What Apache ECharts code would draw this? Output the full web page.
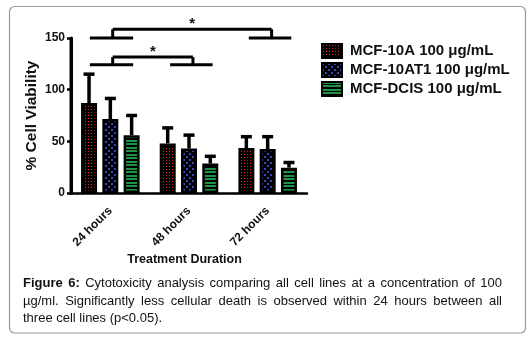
<!DOCTYPE html>
<html lang="en">
<head>
<meta charset="UTF-8">
<title>Figure 6</title>
<style>
  html, body { margin: 0; padding: 0; background: #fff; }
  #chart { width: 531px; height: 339px; }
</style>
</head>
<body>
<div id="chart"></div>
<script src="https://cdn.jsdelivr.net/npm/echarts@6/dist/echarts.min.js"></script>
<script>
  // data
  var durations = ['24 hours', '48 hours', '72 hours'];
  var lineNames = ['MCF-10A 100 \u03bcg/mL', 'MCF-10AT1 100 \u03bcg/mL', 'MCF-DCIS 100 \u03bcg/mL'];
  var mcf10aMean = [87, 48, 43.5];
  var mcf10aSd = [28, 15, 11];
  var mcf10at1Mean = [71.5, 43, 42.5];
  var mcf10at1Sd = [20, 13, 12];
  var dcisMean = [56, 28.5, 24.5];
  var dcisSd = [19, 7, 5];
  var yTicks = [0, 50, 100, 150];

  // significance brackets: [from group, to group, arm level, top level]
  var brackets = [
    [0, 1, 124, 131.5],
    [0, 2, 150, 158.5]
  ];

  var captionLines = [
    'Figure 6: Cytotoxicity analysis comparing all cell lines at a concentration of 100',
    '\u00b5g/ml. Significantly less cellular death is observed within 24 hours between all',
    'three cell lines (p<0.05).'
  ];

  var barW = 16;
  var pitch = 21.3;   // distance between bar centres in a group
  var FONT = 'Arial, "Liberation Sans", sans-serif';

  // little canvas patterns for the bar fills
  function makePattern(w, h, draw) {
    var c = document.createElement('canvas');
    c.width = w; c.height = h;
    var ctx = c.getContext('2d');
    ctx.fillStyle = '#000';
    ctx.fillRect(0, 0, w, h);
    draw(ctx);
    return { image: c, repeat: 'repeat' };
  }
  var redDots = makePattern(3, 3, function (ctx) {
    ctx.fillStyle = '#e8231d';
    ctx.fillRect(1, 1, 1, 1);
  });
  var blueChecks = makePattern(6, 6, function (ctx) {
    ctx.fillStyle = '#3a45c0';
    ctx.fillRect(0, 0, 2, 2);
    ctx.fillRect(3, 3, 2, 2);
  });
  var greenStripes = makePattern(2, 7, function (ctx) {
    ctx.fillStyle = '#1f9440';
    ctx.fillRect(0, 0, 2, 2);
    ctx.fillRect(0, 3, 2, 2);
  });
  var fills = [redDots, blueChecks, greenStripes];
  var means = [mcf10aMean, mcf10at1Mean, dcisMean];
  var sds = [mcf10aSd, mcf10at1Sd, dcisSd];

  var errData = [];
  for (var s = 0; s < 3; s++) {
    for (var i = 0; i < durations.length; i++) {
      errData.push([i, s, means[s][i], sds[s][i]]);
    }
  }

  var barSeries = lineNames.map(function (name, s) {
    return {
      name: name,
      type: 'bar',
      barWidth: barW,
      barGap: ((pitch - barW) / barW * 100).toFixed(0) + '%',
      data: means[s],
      itemStyle: {
        color: fills[s],
        borderColor: '#000',
        borderWidth: 2.5
      },
      emphasis: { disabled: true }
    };
  });

  // caption, justified like the printed figure
  var measureCtx = document.createElement('canvas').getContext('2d');
  function captionLine(text, y, width, justify) {
    var words = text.split(' ');
    var els = [], widths = [], total = 0;
    words.forEach(function (w, k) {
      var bold = k < 2 && text.indexOf('Figure') === 0;
      var font = (bold ? 'bold ' : '') + '13px ' + FONT;
      measureCtx.font = font;
      var wd = measureCtx.measureText(w).width;
      widths.push(wd);
      total += wd;
      els.push({ type: 'text', y: y, style: { text: w, font: font, fill: '#111', verticalAlign: 'middle' } });
    });
    measureCtx.font = '13px ' + FONT;
    var gap = justify ? (width - total) / (words.length - 1) : measureCtx.measureText(' ').width;
    var x = 0;
    els.forEach(function (el, k) {
      el.x = x;
      x += widths[k] + gap;
    });
    return els;
  }
  var captionEls = []
    .concat(captionLine(captionLines[0], 0, 479, true))
    .concat(captionLine(captionLines[1], 17.6, 479, true))
    .concat(captionLine(captionLines[2], 35.2, 479, false));

  var chart = echarts.init(document.getElementById('chart'));
  chart.setOption({
    animation: false,
    textStyle: { fontFamily: FONT },
    grid: { left: 71, right: 224, top: 38, bottom: 146 },
    legend: {
      orient: 'vertical',
      left: 321,
      top: 43,
      padding: 0,
      itemWidth: 20,
      itemHeight: 14,
      itemGap: 3,
      icon: 'rect',
      selectedMode: false,
      data: lineNames,
      textStyle: { fontSize: 15, fontWeight: 'bold', color: '#111', lineHeight: 15, padding: [0, 0, 0, 3] }
    },
    xAxis: {
      type: 'category',
      data: durations,
      name: 'Treatment Duration',
      nameLocation: 'middle',
      nameGap: 60,
      nameTextStyle: { fontSize: 12.5, fontWeight: 'bold', color: '#111', padding: [0, 9, 0, 0] },
      axisLine: { lineStyle: { color: '#000', width: 2.5 } },
      axisTick: { alignWithLabel: true, length: 4, lineStyle: { color: '#000', width: 2.5 } },
      axisLabel: { rotate: 45, fontSize: 12, fontWeight: 'bold', color: '#111', margin: 16 }
    },
    yAxis: {
      type: 'value',
      z: 20,
      min: yTicks[0],
      max: yTicks[yTicks.length - 1],
      interval: 50,
      name: '% Cell Viability',
      nameLocation: 'middle',
      nameGap: 31,
      nameTextStyle: { fontSize: 15.5, fontWeight: 'bold', color: '#111' },
      splitLine: { show: false },
      axisLine: { show: true, onZero: false, lineStyle: { color: '#000', width: 3 } },
      axisTick: { show: true, length: 4, lineStyle: { color: '#000', width: 2.5 } },
      axisLabel: { fontSize: 12, fontWeight: 'bold', color: '#111', margin: 6 }
    },
    series: barSeries.concat([{
      type: 'custom',
      name: 'error',
      z: 1,
      data: errData,
      renderItem: function (params, api) {
        var off = (api.value(1) - 1) * pitch;
        var base = api.coord([api.value(0), api.value(2)]);
        var top = api.coord([api.value(0), api.value(2) + api.value(3)]);
        var x = base[0] + off;
        var st = { stroke: '#000', lineWidth: 3.5 };
        return {
          type: 'group',
          children: [
            { type: 'line', shape: { x1: x, y1: base[1], x2: x, y2: top[1] }, style: st },
            { type: 'line', shape: { x1: x - 5.5, y1: top[1], x2: x + 5.5, y2: top[1] }, style: st }
          ]
        };
      }
    }, {
      type: 'custom',
      name: 'brackets',
      clip: false,
      data: brackets,
      renderItem: function (params, api) {
        var a = api.value(0), b = api.value(1);
        var arm = api.value(2), top = api.value(3);
        var st = { stroke: '#000', lineWidth: 3 };
        // category centre in pixels, plus a fraction of the band width
        var band = api.size([1, 0])[0];
        function px(c, f, v) {
          var p = api.coord([c, v]);
          return [p[0] + f * band, p[1]];
        }
        function seg(p1, p2) {
          return { type: 'line', shape: { x1: p1[0], y1: p1[1], x2: p2[0], y2: p2[1] }, style: st };
        }
        var va = px(a, 0.03, arm), vat = px(a, 0.03, top);
        var vb = px(b, 0.05, arm), vbt = px(b, 0.05, top);
        return {
          type: 'group',
          children: [
            seg(px(a, -0.26, arm), px(a, 0.29, arm)),
            seg(px(b, -0.24, arm), px(b, 0.3, arm)),
            seg(va, vat),
            seg(vb, vbt),
            seg(vat, vbt),
            {
              type: 'text',
              x: (vat[0] + vbt[0]) / 2, y: vat[1] + 2,
              style: { text: '*', fill: '#111', font: 'bold 15px ' + FONT, align: 'center', verticalAlign: 'bottom' }
            }
          ]
        };
      }
    }]),
    graphic: [{
      type: 'rect',
      shape: { x: 9.5, y: 6.5, width: 516, height: 326.5, r: 5 },
      style: { fill: 'none', stroke: '#9a9a9a', lineWidth: 1.2 },
      z: -1
    }, {
      type: 'group',
      x: 23,
      y: 283.5,
      children: captionEls
    }]
  });

  // vertical axis line once more, placed from the grid's own pixel mapping
  var rect = chart.getModel().getComponent('grid').coordinateSystem.getRect();
  var yBottom = chart.convertToPixel({ yAxisIndex: 0 }, yTicks[0]);
  var yTop = chart.convertToPixel({ yAxisIndex: 0 }, yTicks[yTicks.length - 1]);
  chart.setOption({
    graphic: [{
      id: 'yAxisLine',
      type: 'line',
      z: 100,
      shape: { x1: rect.x, y1: yBottom + 1.25, x2: rect.x, y2: yTop },
      style: { stroke: '#000', lineWidth: 3 }
    }]
  });
</script>
</body>
</html>
